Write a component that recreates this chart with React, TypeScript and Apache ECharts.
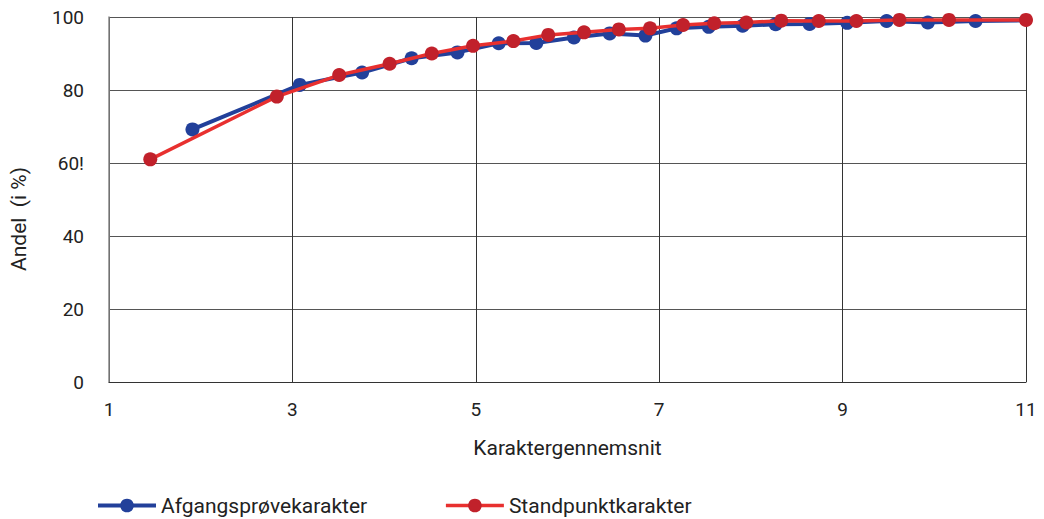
import React, { useEffect, useRef } from "react";
import * as echarts from "echarts";

const afgangX = [1.91, 3.08, 3.76, 4.30, 4.80, 5.25, 5.66, 6.07, 6.46, 6.85, 7.19, 7.54, 7.91, 8.27, 8.64, 9.05, 9.48, 9.93, 10.45, 11.3];
const afgangY = [69.2, 81.4, 84.8, 88.7, 90.3, 92.8, 92.9, 94.4, 95.5, 94.9, 96.9, 97.3, 97.6, 98.0, 98.1, 98.4, 98.9, 98.5, 98.9, 99.2];

const standX = [1.45, 2.83, 3.51, 4.06, 4.52, 4.97, 5.41, 5.79, 6.18, 6.56, 6.90, 7.26, 7.60, 7.95, 8.33, 8.74, 9.15, 9.62, 10.16, 11.0];
const standY = [61.0, 78.2, 84.1, 87.2, 90.0, 92.1, 93.4, 95.1, 95.8, 96.6, 96.9, 97.8, 98.3, 98.5, 99.0, 98.9, 98.9, 99.2, 99.2, 99.2];

const yTickLabels: Record<number, string> = { 0: "0", 20: "20", 40: "40", 60: "60!", 80: "80", 100: "100" };

const seriesNames = ["Afgangsprøvekarakter", "Standpunktkarakter"];

export default function App() {
  const ref = useRef<HTMLDivElement>(null);
  useEffect(() => {
    if (!ref.current) return;
    const chart = echarts.init(ref.current, null, { renderer: "svg" });
    const font = "Roboto, sans-serif";
    chart.setOption({
      animation: false,
      textStyle: { fontFamily: font },
      grid: { left: 109, right: 18, top: 17, bottom: 137, containLabel: false },
      legend: {
        left: 96,
        top: 495,
        itemWidth: 58,
        itemHeight: 17,
        itemGap: 77,
        padding: 0,
        textStyle: { fontSize: 21, color: "#222", fontFamily: font },
        data: [
          { name: seriesNames[0], lineStyle: { width: 4 } },
          { name: seriesNames[1], lineStyle: { width: 3.5 } },
        ],
      },
      xAxis: {
        type: "value",
        min: 1,
        max: 11,
        interval: 2,
        name: "Karaktergennemsnit",
        nameLocation: "middle",
        nameGap: 55,
        nameTextStyle: { fontSize: 21, color: "#222", fontFamily: font },
        axisLine: { show: true, lineStyle: { color: "#333", width: 1 } },
        axisTick: { show: false },
        axisLabel: { fontSize: 19, color: "#222", margin: 18, fontFamily: font },
        splitLine: { show: true, lineStyle: { color: "#333", width: 1 } },
      },
      yAxis: {
        type: "value",
        min: 0,
        max: 100,
        interval: 20,
        axisLine: { show: true, lineStyle: { color: "#888", width: 1.5 } },
        axisTick: { show: false },
        axisLabel: {
          fontSize: 19,
          color: "#222",
          margin: 25,
          fontFamily: font,
          formatter: (v: number) => yTickLabels[v] ?? String(v),
        },
        splitLine: { show: true, lineStyle: { color: "#555", width: 1 } },
      },
      graphic: [
        {
          type: "text",
          x: 19,
          y: 219,
          rotation: Math.PI / 2,
          style: {
            text: "Andel  (i %)",
            fontSize: 21,
            fontFamily: font,
            fill: "#222",
            align: "center",
            verticalAlign: "middle",
          },
        },
      ],
      series: [
        {
          name: seriesNames[0],
          type: "line",
          clip: false,
          data: afgangX.map((x, i) => [x, afgangY[i]]),
          symbol: "circle",
          symbolSize: 14,
          lineStyle: { color: "#22409a", width: 4 },
          itemStyle: { color: "#22409a" },
          z: 2,
        },
        {
          name: seriesNames[1],
          type: "line",
          clip: false,
          data: standX.map((x, i) => [x, standY[i]]),
          symbol: "circle",
          symbolSize: 14,
          lineStyle: { color: "#e8302f", width: 3.5 },
          itemStyle: { color: "#c1212b" },
          z: 3,
        },
      ],
    });
    return () => chart.dispose();
  }, []);
  return (
    <div
      ref={ref}
      style={{ position: "fixed", left: 0, top: 0, width: 1044, height: 519, background: "#fff" }}
    />
  );
}
